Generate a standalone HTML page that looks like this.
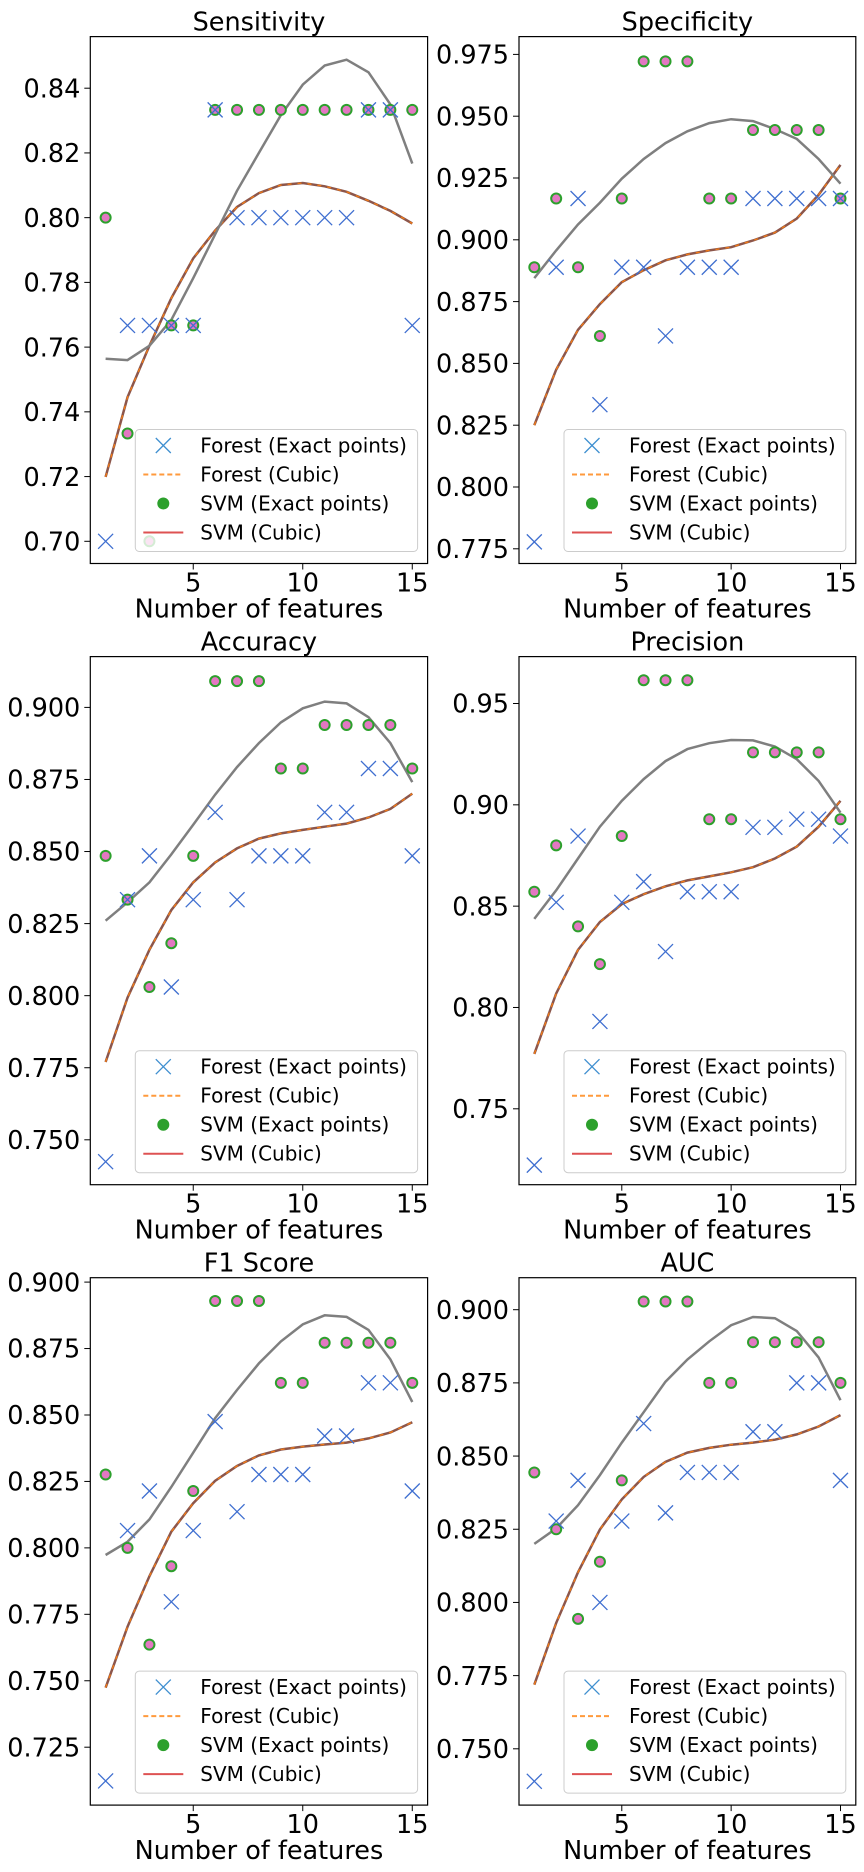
<!DOCTYPE html>
<html><head><meta charset="utf-8"><style>
html,body{margin:0;padding:0;background:#fff;}
svg{display:block;font-family:"DejaVu Sans","Liberation Sans",sans-serif;}
</style></head><body>
<svg id="fig" width="864" height="1872" viewBox="0 0 864 1872" xmlns="http://www.w3.org/2000/svg"></svg>
<script>
const features = [1,2,3,4,5,6,7,8,9,10,11,12,13,14,15];
const xTicks = [5,10,15];
const metricNames = ["Sensitivity","Specificity","Accuracy","Precision","F1 Score","AUC"];

const sensForest = [.70,.7667,.7667,.7667,.7667,.8333,.80,.80,.80,.80,.80,.80,.8333,.8333,.7667];
const sensSvm = [.80,.7333,.70,.7667,.7667,.8333,.8333,.8333,.8333,.8333,.8333,.8333,.8333,.8333,.8333];
const sensGray = [.7564,.7560,.7604,.7684,.7813,.7948,.8083,.8200,.8317,.8411,.8470,.8488,.8449,.8350,.8167];
const sensCubic = [.7199,.7445,.7604,.7751,.7874,.7960,.8033,.8076,.8101,.8107,.8097,.8080,.8052,.8021,.7982];
const sensTicks = [.70,.72,.74,.76,.78,.80,.82,.84];
const sensTickLabels = ["0.70","0.72","0.74","0.76","0.78","0.80","0.82","0.84"];

const specForest = [.7778,.8889,.9167,.8333,.8889,.8889,.8611,.8889,.8889,.8889,.9167,.9167,.9167,.9167,.9167];
const specSvm = [.8889,.9167,.8889,.8611,.9167,.9722,.9722,.9722,.9167,.9167,.9444,.9444,.9444,.9444,.9167];
const specGray = [.8845,.8957,.9062,.9150,.9247,.9327,.9391,.9439,.9472,.9488,.9480,.9448,.9408,.9327,.9227];
const specCubic = [.8250,.8475,.8636,.8740,.8829,.8877,.8917,.8941,.8957,.8970,.8997,.9029,.9086,.9182,.9303];
const specTicks = [.775,.8,.825,.85,.875,.9,.925,.95,.975];
const specTickLabels = ["0.775","0.800","0.825","0.850","0.875","0.900","0.925","0.950","0.975"];

const accForest = [.7424,.8333,.8485,.8030,.8333,.8636,.8333,.8485,.8485,.8485,.8636,.8636,.8788,.8788,.8485];
const accSvm = [.8485,.8333,.8030,.8182,.8485,.9091,.9091,.9091,.8788,.8788,.8939,.8939,.8939,.8939,.8788];
const accGray = [.8260,.8324,.8393,.8490,.8593,.8697,.8793,.8876,.8948,.8997,.9020,.9014,.8966,.8876,.8741];
const accCubic = [.7770,.7993,.8159,.8297,.8393,.8462,.8511,.8545,.8563,.8575,.8586,.8597,.8618,.8648,.8701];
const accTicks = [.75,.775,.8,.825,.85,.875,.9];
const accTickLabels = ["0.750","0.775","0.800","0.825","0.850","0.875","0.900"];

const precForest = [.7222,.8519,.8846,.7931,.8519,.8621,.8276,.8571,.8571,.8571,.8889,.8889,.8929,.8929,.8846];
const precSvm = [.8571,.88,.84,.8214,.8846,.9615,.9615,.9615,.8929,.8929,.9259,.9259,.9259,.9259,.8929];
const precGray = [.8437,.8578,.8735,.8892,.9020,.9127,.9216,.9275,.9304,.9320,.9318,.9288,.9225,.9118,.8961];
const precCubic = [.7771,.8069,.8284,.8422,.8510,.8559,.8598,.8627,.8647,.8667,.8692,.8735,.8794,.8892,.9020];
const precTicks = [.75,.8,.85,.9,.95];
const precTickLabels = ["0.75","0.80","0.85","0.90","0.95"];

const f1Forest = [.7123,.8065,.8214,.7797,.8065,.8475,.8136,.8276,.8276,.8276,.8421,.8421,.8621,.8621,.8214];
const f1Svm = [.8276,.80,.7636,.7931,.8214,.8929,.8929,.8929,.8621,.8621,.8772,.8772,.8772,.8772,.8621];
const f1Gray = [.7973,.8023,.8107,.8229,.8358,.8488,.8594,.8694,.8777,.8841,.8875,.8869,.8820,.8709,.8549];
const f1Cubic = [.7474,.7703,.7893,.8061,.8168,.8252,.8308,.8348,.8370,.8381,.8389,.8396,.8412,.8434,.8473];
const f1Ticks = [.725,.75,.775,.8,.825,.85,.875,.9];
const f1TickLabels = ["0.725","0.750","0.775","0.800","0.825","0.850","0.875","0.900"];

const aucForest = [.7389,.8278,.8417,.80,.8278,.8611,.8306,.8444,.8444,.8444,.8583,.8583,.875,.875,.8417];
const aucSvm = [.8444,.8250,.7944,.8139,.8417,.9028,.9028,.9028,.875,.875,.8889,.8889,.8889,.8889,.875];
const aucGray = [.8200,.8253,.8332,.8435,.8546,.8650,.8754,.8830,.8892,.8947,.8975,.8971,.8927,.8837,.8691];
const aucCubic = [.7719,.7930,.8103,.8249,.8352,.8429,.8480,.8512,.8528,.8539,.8546,.8556,.8574,.8601,.8640];
const aucTicks = [.75,.775,.8,.825,.85,.875,.9];
const aucTickLabels = ["0.750","0.775","0.800","0.825","0.850","0.875","0.900"];

const legendLabels = ["Forest (Exact points)","Forest (Cubic)","SVM (Exact points)","SVM (Cubic)"];

const NS = "http://www.w3.org/2000/svg";
const fig = document.getElementById("fig");
function mk(tag, attrs, parent){
  const e = document.createElementNS(NS, tag);
  for (const k in attrs) e.setAttribute(k, attrs[k]);
  (parent || fig).appendChild(e);
  return e;
}

const panels = [
  {name:"sensitivity", forest:sensForest, svm:sensSvm, gray:sensGray, cubic:sensCubic, ticks:sensTicks, labels:sensTickLabels, L:90.3, R:427.6, T:36.6, B:563.5, v0:.70, p0:541.3, v1:.84, p1:88.2},
  {name:"specificity", forest:specForest, svm:specSvm, gray:specGray, cubic:specCubic, ticks:specTicks, labels:specTickLabels, L:519, R:855.8, T:36.6, B:563.5, v0:.775, p0:548.8, v1:.975, p1:54.4},
  {name:"accuracy", forest:accForest, svm:accSvm, gray:accGray, cubic:accCubic, ticks:accTicks, labels:accTickLabels, L:90.3, R:427.6, T:656.6, B:1184.7, v0:.75, p0:1139.8, v1:.9, p1:707.4},
  {name:"precision", forest:precForest, svm:precSvm, gray:precGray, cubic:precCubic, ticks:precTicks, labels:precTickLabels, L:519, R:855.8, T:656.6, B:1184.7, v0:.75, p0:1108.8, v1:.95, p1:703.5},
  {name:"f1-score", forest:f1Forest, svm:f1Svm, gray:f1Gray, cubic:f1Cubic, ticks:f1Ticks, labels:f1TickLabels, L:90.3, R:427.6, T:1277.7, B:1805.1, v0:.725, p0:1747.2, v1:.9, p1:1282.1},
  {name:"auc", forest:aucForest, svm:aucSvm, gray:aucGray, cubic:aucCubic, ticks:aucTicks, labels:aucTickLabels, L:519, R:855.8, T:1277.7, B:1805.1, v0:.75, p0:1748.8, v1:.9, p1:1309.7}
];

panels.forEach((P, i) => {
  const g = mk("g", {});
  
  
  const unit = (P.R - P.L) / 15.4;
  const xs = v => P.L + (v - 0.3) * unit;
  const ys = v => P.p0 + (v - P.v0) * (P.p1 - P.p0) / (P.v1 - P.v0);

  const title = mk("text", {x:(P.L+P.R)/2, y:P.T-6, "text-anchor":"middle", "font-size":25.5, fill:"#000"}, g);
  title.textContent = metricNames[i];
  
  

  xTicks.forEach(t => {
    mk("line", {x1:xs(t), x2:xs(t), y1:P.B, y2:P.B+6, stroke:"#000", "stroke-width":1}, g);
    const tl = mk("text", {x:xs(t), y:P.B+28, "text-anchor":"middle", "font-size":25.5}, g);
    tl.textContent = t;
    
    
  });
  const xl = mk("text", {x:(P.L+P.R)/2, y:P.B+54, "text-anchor":"middle", "font-size":25.5}, g);
  xl.textContent = "Number of features";
  
  

  P.ticks.forEach((t, k) => {
    const y = ys(t);
    mk("line", {x1:P.L-6, x2:P.L, y1:y, y2:y, stroke:"#000", "stroke-width":1}, g);
    const tl = mk("text", {x:P.L-10, y:y+9.2, "text-anchor":"end", "font-size":25.5}, g);
    tl.textContent = P.labels[k];
    
    
  });

  const clipId = "clip" + i;
  const cp = mk("clipPath", {id:clipId}, g);
  mk("rect", {x:P.L, y:P.T, width:P.R-P.L, height:P.B-P.T}, cp);
  const plot = mk("g", {"clip-path":"url(#"+clipId+")"}, g);

  const pts = arr => arr.map((v, k) => xs(features[k]).toFixed(1) + "," + ys(v).toFixed(1)).join(" ");

  const c1 = mk("polyline", {points:pts(P.cubic), fill:"none", stroke:"#8c564b", "stroke-width":2.5}, plot);
  
  
  const c2 = mk("polyline", {points:pts(P.cubic), fill:"none", stroke:"#ff7f0e", "stroke-width":1.3, "stroke-dasharray":"4,6", opacity:0.9}, plot);
  
  

  const gl = mk("polyline", {points:pts(P.gray), fill:"none", stroke:"#7f7f7f", "stroke-width":2.5}, plot);
  
  

  P.svm.forEach((v, k) => {
    const c = mk("circle", {cx:xs(features[k]), cy:ys(v), r:6, fill:"#2ca02c"}, plot);
    
    
    mk("circle", {cx:xs(features[k]), cy:ys(v), r:4, fill:"#e377c2"}, plot);
  });
  P.forest.forEach((v, k) => {
    const x = xs(features[k]), y = ys(v), h = 7.5;
    const p = mk("path", {d:`M${x-h},${y-h}L${x+h},${y+h}M${x-h},${y+h}L${x+h},${y-h}`, stroke:"#3f6fd0", "stroke-width":1.3, fill:"none"}, plot);
    
    
  });

  const lg = mk("g", {}, g);
  
  
  const lx = P.L + 45, lyB = P.B - 12, lh = 122, lw = P.R - 10 - lx;
  const ly = lyB - lh;
  mk("rect", {x:lx, y:ly, width:lw, height:lh, rx:4, fill:"#fff", "fill-opacity":0.8, stroke:"#ccc", "stroke-width":1}, lg);
  const rows = [16, 45, 74, 103];
  rows.forEach((dy, k) => {
    const cy = ly + dy;
    const mx = lx + 28;
    const e = mk("g", {}, lg);
    
    
    if (k === 0) mk("path", {d:`M${mx-7.5},${cy-7.5}L${mx+7.5},${cy+7.5}M${mx-7.5},${cy+7.5}L${mx+7.5},${cy-7.5}`, stroke:"#3f8fd0", "stroke-width":1.3}, e);
    if (k === 1) mk("line", {x1:lx+8, x2:lx+48, y1:cy, y2:cy, stroke:"#ff9a3c", "stroke-width":2, "stroke-dasharray":"5,3"}, e);
    if (k === 2) mk("circle", {cx:mx, cy:cy, r:6, fill:"#2ca02c"}, e);
    if (k === 3) mk("line", {x1:lx+8, x2:lx+48, y1:cy, y2:cy, stroke:"#d62728", "stroke-width":2, opacity:0.8}, e);
    const t = mk("text", {x:lx+65, y:cy+7, "font-size":20}, e);
    t.textContent = legendLabels[k];
  });

  const frame = mk("rect", {x:P.L, y:P.T, width:P.R-P.L, height:P.B-P.T, fill:"none", stroke:"#000", "stroke-width":1.2}, g);
  
  
});
</script>
</body></html>
